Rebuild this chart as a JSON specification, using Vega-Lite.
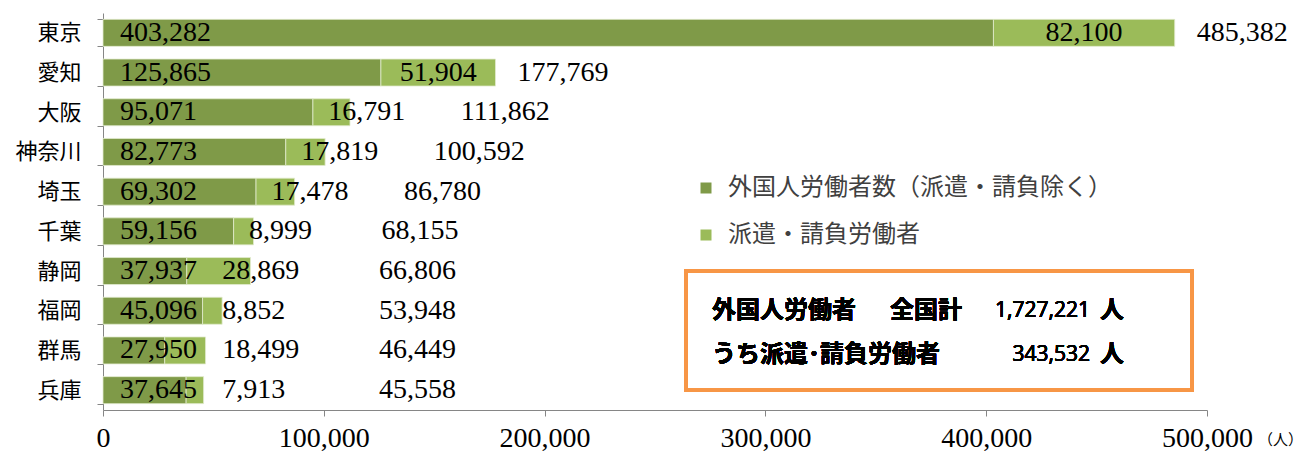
{
  "$schema": "https://vega.github.io/schema/vega-lite/v6.json",
  "width": 1104,
  "height": 397,
  "autosize": {"type": "none"},
  "padding": {"left": 103, "top": 13, "right": 99, "bottom": 44},
  "background": "white",
  "config": {
    "view": {"stroke": null},
    "axis": {"domainColor": "#868686", "tickColor": "#868686", "grid": false, "labelColor": "#000000"},
    "axisX": {"tickSize": 6, "labelFont": "Liberation Serif", "labelFontSize": 28, "labelPadding": 8, "labelFlush": false,
      "titleFont": "Noto Sans CJK JP", "titleFontSize": 15, "titleFontWeight": "normal",
      "titleX": 1177, "titleY": 29, "titleAlign": "center", "titleBaseline": "middle", "titleColor": "#000000"}
  },
  "data": {
    "values": [
      {"pref": "東京", "excl": 403282, "dispatch": 82100, "total": 485382},
      {"pref": "愛知", "excl": 125865, "dispatch": 51904, "total": 177769},
      {"pref": "大阪", "excl": 95071, "dispatch": 16791, "total": 111862},
      {"pref": "神奈川", "excl": 82773, "dispatch": 17819, "total": 100592},
      {"pref": "埼玉", "excl": 69302, "dispatch": 17478, "total": 86780},
      {"pref": "千葉", "excl": 59156, "dispatch": 8999, "total": 68155},
      {"pref": "静岡", "excl": 37937, "dispatch": 28869, "total": 66806},
      {"pref": "福岡", "excl": 45096, "dispatch": 8852, "total": 53948},
      {"pref": "群馬", "excl": 27950, "dispatch": 18499, "total": 46449},
      {"pref": "兵庫", "excl": 37645, "dispatch": 7913, "total": 45558}
    ]
  },
  "encoding": {
    "y": {
      "field": "pref", "type": "nominal", "sort": null, "title": null,
      "scale": {"paddingInner": 0.32, "paddingOuter": 0.16},
      "axis": {"tickBand": "extent", "tickSize": 6, "labelFont": "Noto Sans CJK JP", "labelFontSize": 22, "labelPadding": 16}
    }
  },
  "layer": [
    {
      "mark": {"type": "bar", "stroke": "#E2EBCF", "strokeWidth": 0.8},
      "encoding": {
        "x": {
          "field": "excl", "type": "quantitative",
          "scale": {"domain": [0, 500000], "nice": false},
          "axis": {"values": [0, 100000, 200000, 300000, 400000, 500000], "labelExpr": "format(datum.value, ',')", "labelFont": "Liberation Serif", "labelFlush": false, "title": "（人）"}
        },
        "color": {
          "datum": "外国人労働者数（派遣・請負除く）",
          "scale": {"domain": ["外国人労働者数（派遣・請負除く）", "派遣・請負労働者"], "range": ["#7F9A48", "#9BBB59"]},
          "legend": {
            "orient": "none", "legendX": 591, "legendY": 163, "title": null,
            "symbolType": "square", "symbolSize": 121, "symbolStrokeWidth": 0, "symbolOpacity": 1,
            "labelFont": "Noto Sans CJK JP", "labelFontSize": 24, "labelColor": "#404040",
            "labelOffset": 10, "rowPadding": 23, "labelLimit": 600
          }
        }
      }
    },
    {
      "mark": {"type": "bar", "stroke": "#E2EBCF", "strokeWidth": 0.8},
      "encoding": {
        "x": {"field": "excl", "type": "quantitative"},
        "x2": {"field": "total"},
        "color": {"datum": "派遣・請負労働者"}
      }
    },
    {
      "mark": {"type": "text", "align": "left", "dx": 17, "font": "Liberation Serif", "fontSize": 28, "color": "#000000"},
      "encoding": {
        "x": {"datum": 0, "type": "quantitative"},
        "text": {"field": "excl", "type": "quantitative", "format": ","}
      }
    },
    {
      "transform": [
        {"filter": "datum.dispatch >= 40000"},
        {"calculate": "datum.excl + datum.dispatch / 2", "as": "mid"}
      ],
      "mark": {"type": "text", "align": "center", "font": "Liberation Serif", "fontSize": 28, "color": "#000000"},
      "encoding": {
        "x": {"field": "mid", "type": "quantitative"},
        "text": {"field": "dispatch", "type": "quantitative", "format": ","}
      }
    },
    {
      "transform": [
        {"filter": "datum.dispatch < 40000"},
        {"calculate": "max(datum.excl + 7000, 54000)", "as": "lpos"}
      ],
      "mark": {"type": "text", "align": "left", "font": "Liberation Serif", "fontSize": 28, "color": "#000000"},
      "encoding": {
        "x": {"field": "lpos", "type": "quantitative"},
        "text": {"field": "dispatch", "type": "quantitative", "format": ","}
      }
    },
    {
      "transform": [
        {"calculate": "max(datum.total + 10000, 125000, datum.dispatch < 40000 ? max(datum.excl + 7000, 54000) + 60000 : 0)", "as": "tpos"}
      ],
      "mark": {"type": "text", "align": "left", "font": "Liberation Serif", "fontSize": 28, "color": "#000000"},
      "encoding": {
        "x": {"field": "tpos", "type": "quantitative"},
        "text": {"field": "total", "type": "quantitative", "format": ","}
      }
    },
    {
      "mark": {"type": "rect", "fill": null, "fillOpacity": 0, "stroke": "#F79646", "strokeWidth": 3.5},
      "encoding": {
        "x": {"datum": 264000, "type": "quantitative"},
        "x2": {"datum": 493200},
        "y": {"datum": "静岡"},
        "y2": {"datum": "兵庫"}
      }
    },
    {
      "mark": {"type": "text", "align": "left", "font": "Noto Sans CJK JP", "fontSize": 24, "fontWeight": "bold", "color": "#000000", "text": "外国人労働者"},
      "encoding": {"x": {"datum": 275800, "type": "quantitative"}, "y": {"datum": "福岡"}}
    },
    {
      "mark": {"type": "text", "align": "left", "font": "Noto Sans CJK JP", "fontSize": 24, "fontWeight": "bold", "color": "#000000", "text": "全国計"},
      "encoding": {"x": {"datum": 356400, "type": "quantitative"}, "y": {"datum": "福岡"}}
    },
    {
      "mark": {"type": "text", "align": "right", "font": "Open Sans", "fontSize": 21, "color": "#000000", "text": "1,727,221"},
      "encoding": {"x": {"datum": 447000, "type": "quantitative"}, "y": {"datum": "福岡"}}
    },
    {
      "mark": {"type": "text", "align": "left", "font": "Noto Sans CJK JP", "fontSize": 24, "fontWeight": "bold", "color": "#000000", "text": "人"},
      "encoding": {"x": {"datum": 451500, "type": "quantitative"}, "y": {"datum": "福岡"}}
    },
    {
      "mark": {"type": "text", "align": "left", "dy": 5, "font": "Noto Sans CJK JP", "fontSize": 24, "fontWeight": "bold", "color": "#000000", "text": "うち派遣･請負労働者"},
      "encoding": {"x": {"datum": 275800, "type": "quantitative"}, "y": {"datum": "群馬"}}
    },
    {
      "mark": {"type": "text", "align": "right", "dy": 5, "font": "Open Sans", "fontSize": 21, "color": "#000000", "text": "343,532"},
      "encoding": {"x": {"datum": 447000, "type": "quantitative"}, "y": {"datum": "群馬"}}
    },
    {
      "mark": {"type": "text", "align": "left", "dy": 5, "font": "Noto Sans CJK JP", "fontSize": 24, "fontWeight": "bold", "color": "#000000", "text": "人"},
      "encoding": {"x": {"datum": 451500, "type": "quantitative"}, "y": {"datum": "群馬"}}
    }
  ]
}
